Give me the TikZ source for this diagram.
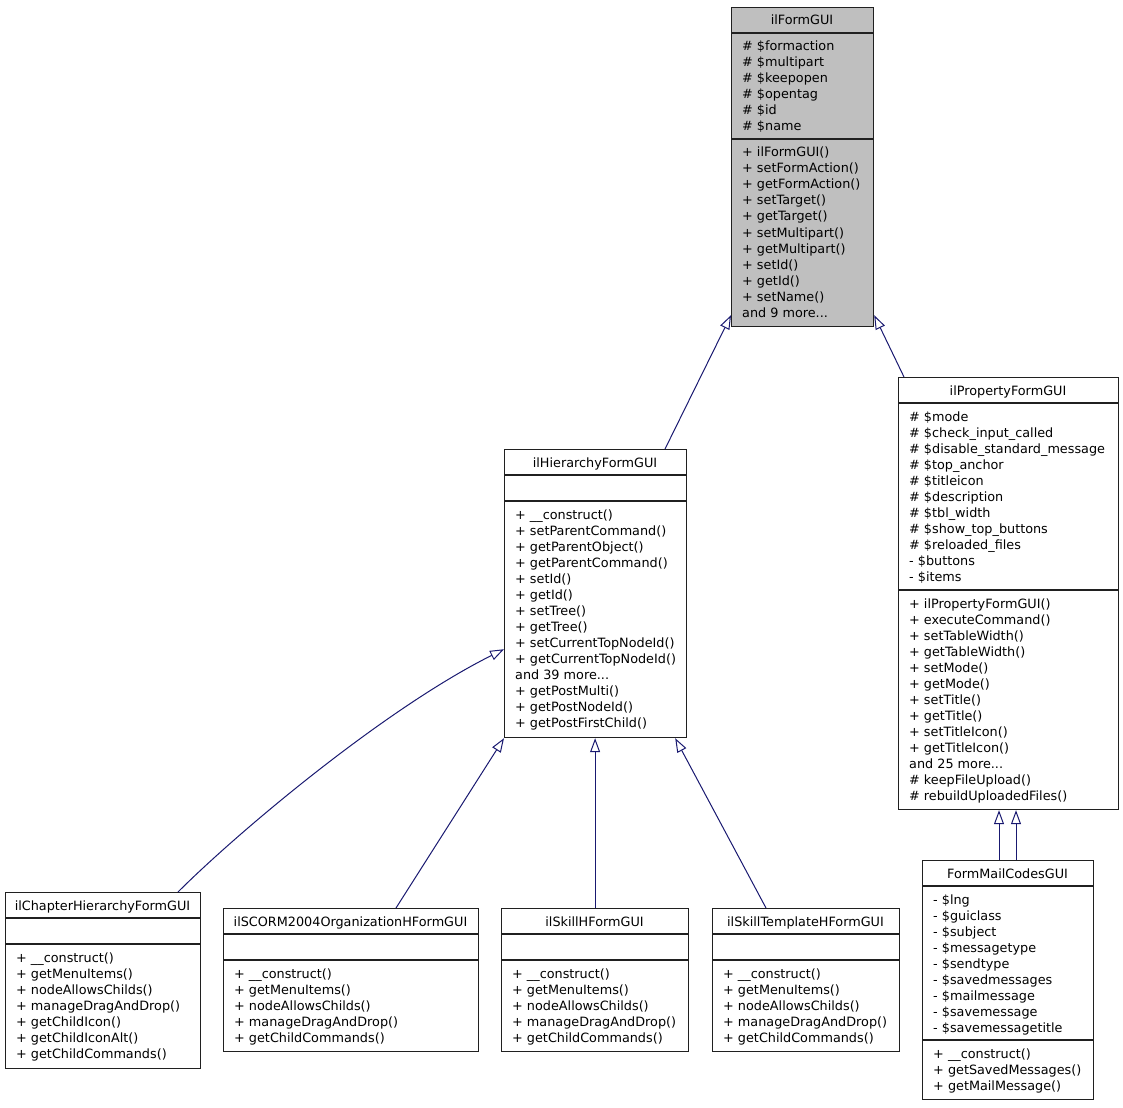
\documentclass[tikz,border=0pt]{standalone}
\usepackage{fontspec}
\setmainfont{DejaVu Sans}
\usetikzlibrary{arrows.meta}
\definecolor{edgecol}{HTML}{191970}
\definecolor{basefill}{HTML}{BFBFBF}
\definecolor{boxline}{HTML}{202020}
\newcommand\mdots{...}

\newcommand\umlclass[7]{% 1 name, 2 L, 3 T, 4 R, 5 B, 6 fill, 7 title
  \node[box, fill=#6, anchor=north west, minimum width={#4pt-#2pt}, minimum height={#5pt-#3pt}, inner sep=0pt] (#1) at (#2,#3) {};
  \node[txt, anchor=base] (#1-title) at ({(#2+#4)/2}, {#3+18}) {#7};
  \draw[box] (#2,{#3+26}) -- (#4,{#3+26});}
\newcommand\umlsep[3]{\draw[box] (#1,#3) -- (#2,#3);}
\newcommand\umlrows[4]{% name, x, first baseline, list
  \foreach \lbl [count=\i from 0] in {#4} {\node[txt, anchor=base west] (#1-\i) at (#2, {#3+16*\i}) {\lbl};}}

\begin{document}
\begin{tikzpicture}[x=1pt,y=-1pt,
  box/.style={draw=boxline, line width=1.2pt},
  txt/.style={font=\fontsize{12.8}{16}\selectfont, inner sep=0pt, text=black},
  inh/.style={draw=edgecol, line width=1pt, -{Triangle[open, length=14pt, width=10pt]}}]
\useasboundingbox (0,0) rectangle (1123,1107);

% ilFormGUI
\umlclass{formgui}{731}{7}{873}{326}{basefill}{ilFormGUI}
\umlsep{731}{873}{139}
\umlrows{formgui-a}{742}{51}{\# \$formaction,\# \$multipart,\# \$keepopen,\# \$opentag,\# \$id,\# \$name}
\umlrows{formgui-m}{742}{157}{+ ilFormGUI(),+ setFormAction(),+ getFormAction(),+ setTarget(),+ getTarget(),+ setMultipart(),+ getMultipart(),+ setId(),+ getId(),+ setName(),and 9 more\mdots}

% ilHierarchyFormGUI
\umlclass{hier}{504}{449}{686}{737}{white}{ilHierarchyFormGUI}
\umlsep{504}{686}{501}
\umlrows{hier-m}{515}{519}{+ \_\_construct(),+ setParentCommand(),+ getParentObject(),+ getParentCommand(),+ setId(),+ getId(),+ setTree(),+ getTree(),+ setCurrentTopNodeId(),+ getCurrentTopNodeId(),and 39 more\mdots,+ getPostMulti(),+ getPostNodeId(),+ getPostFirstChild()}

% ilPropertyFormGUI
\umlclass{prop}{898}{377}{1118}{809}{white}{ilPropertyFormGUI}
\umlsep{898}{1118}{590}
\umlrows{prop-a}{909}{421}{\# \$mode,\# \$check\_input\_called,\# \$disable\_standard\_message,\# \$top\_anchor,\# \$titleicon,\# \$description,\# \$tbl\_width,\# \$show\_top\_buttons,\# \$reloaded\_files,- \$buttons,- \$items}
\umlrows{prop-m}{909}{608}{+ ilPropertyFormGUI(),+ executeCommand(),+ setTableWidth(),+ getTableWidth(),+ setMode(),+ getMode(),+ setTitle(),+ getTitle(),+ setTitleIcon(),+ getTitleIcon(),and 25 more\mdots,\# keepFileUpload(),\# rebuildUploadedFiles()}

% ilChapterHierarchyFormGUI
\umlclass{chap}{5}{892}{200}{1068}{white}{ilChapterHierarchyFormGUI}
\umlsep{5}{200}{944}
\umlrows{chap-m}{16}{962}{+ \_\_construct(),+ getMenuItems(),+ nodeAllowsChilds(),+ manageDragAndDrop(),+ getChildIcon(),+ getChildIconAlt(),+ getChildCommands()}

% ilSCORM2004OrganizationHFormGUI
\umlclass{scorm}{223}{908}{478}{1051}{white}{ilSCORM2004OrganizationHFormGUI}
\umlsep{223}{478}{960}
\umlrows{scorm-m}{234}{978}{+ \_\_construct(),+ getMenuItems(),+ nodeAllowsChilds(),+ manageDragAndDrop(),+ getChildCommands()}

% ilSkillHFormGUI
\umlclass{skill}{501}{908}{688}{1051}{white}{ilSkillHFormGUI}
\umlsep{501}{688}{960}
\umlrows{skill-m}{512}{978}{+ \_\_construct(),+ getMenuItems(),+ nodeAllowsChilds(),+ manageDragAndDrop(),+ getChildCommands()}

% ilSkillTemplateHFormGUI
\umlclass{stemp}{712}{908}{899}{1051}{white}{ilSkillTemplateHFormGUI}
\umlsep{712}{899}{960}
\umlrows{stemp-m}{723}{978}{+ \_\_construct(),+ getMenuItems(),+ nodeAllowsChilds(),+ manageDragAndDrop(),+ getChildCommands()}

% FormMailCodesGUI
\umlclass{fm}{922}{860}{1093}{1099}{white}{FormMailCodesGUI}
\umlsep{922}{1093}{1040}
\umlrows{fm-a}{933}{904}{- \$lng,- \$guiclass,- \$subject,- \$messagetype,- \$sendtype,- \$savedmessages,- \$mailmessage,- \$savemessage,- \$savemessagetitle}
\umlrows{fm-m}{933}{1058}{+ \_\_construct(),+ getSavedMessages(),+ getMailMessage()}

% inheritance connectors
\draw[inh] ([xshift=161pt]hier.north west) -- ([yshift=12pt]formgui.south west);
\draw[inh] ([xshift=6pt]prop.north west) -- ([yshift=12pt]formgui.south east);
\draw[inh] ([xshift=173pt]chap.north west) .. controls +(60,-60) and +(-120,60) .. ([yshift=89pt]hier.south west);
\draw[inh] ([xshift=173pt]scorm.north west) -- (hier.south west);
\draw[inh] (skill.north) -- (skill.north |- hier.south);
\draw[inh] ([xshift=54pt]stemp.north west) -- ([xshift=-12pt]hier.south east);
\draw[inh] ([xshift=77pt]fm.north west) coordinate (fm1) -- (fm1 |- prop.south);
\draw[inh] ([xshift=94pt]fm.north west) coordinate (fm2) -- (fm2 |- prop.south);
\end{tikzpicture}
\end{document}
